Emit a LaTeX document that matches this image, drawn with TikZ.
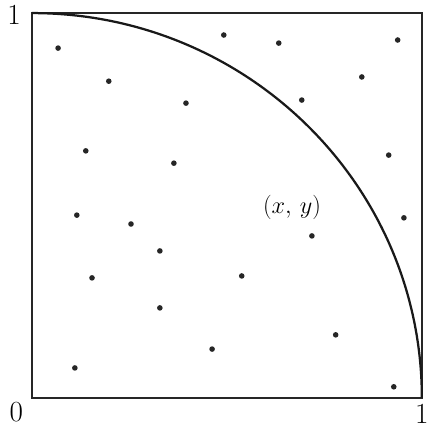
\documentclass[tikz,border=0pt]{standalone}
\usepackage{tikz}
\usetikzlibrary{positioning}

\begin{document}
\begin{tikzpicture}[
    x=9.75cm, y=9.625cm,
    every node/.style={font=\LARGE},
    sample/.style={circle, fill=black!85, inner sep=0pt, minimum size=0.14cm},
    frame/.style={line width=1.4pt, draw=black!85},
    quarter/.style={line width=1.6pt, draw=black!90},
    ticklab/.style={inner sep=0pt, font=\huge},
]
\useasboundingbox (-0.082,-0.083) rectangle (1.044,1.034);

% Unit square and quarter circle
\draw[frame] (0,0) rectangle (1,1);
\draw[quarter] (0,1) arc[start angle=90, end angle=0, radius=1];

% Axis labels
\node[ticklab] (one_y) at (-0.046,0.995) {1};
\node[ticklab] (zero) at (-0.040,-0.037) {0};
\node[ticklab] (one_x) at (1.0,-0.042) {1};

% Random points
\foreach \px/\py [count=\i] in {0.067/0.909, 0.197/0.823, 0.395/0.766, 0.138/0.642,
    0.364/0.610, 0.115/0.475, 0.492/0.943, 0.633/0.922, 0.938/0.930, 0.846/0.834,
    0.692/0.774, 0.915/0.631, 0.254/0.452, 0.328/0.382, 0.154/0.312, 0.328/0.234,
    0.462/0.127, 0.110/0.078, 0.954/0.468, 0.718/0.421, 0.538/0.317, 0.779/0.164,
    0.928/0.029}
  \node[sample] (p\i) at (\px,\py) {};

% Point label
\node[font=\LARGE] (xy) at (0.667,0.494) {$(x,\,y)$};

\end{tikzpicture}
\end{document}
